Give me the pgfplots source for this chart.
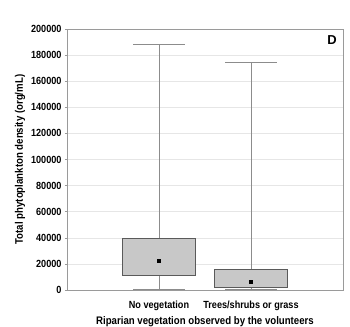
\documentclass[border=0pt]{standalone}
\usepackage{pgfplots}
\pgfplotsset{compat=1.18}
\usepackage{fontspec}
\setmainfont{Liberation Sans}
\newfontfamily\condfont[FakeStretch=0.88, UprightFont={* Bold}, BoldFont={* Bold}]{Liberation Sans}
\definecolor{boxfill}{HTML}{C8C8C8}
\definecolor{boxdraw}{HTML}{5A5A5A}
\definecolor{whisk}{HTML}{8C8C8C}
\definecolor{gridc}{HTML}{E6E6E6}
\definecolor{axc}{HTML}{9A9A9A}
\begin{document}
\begin{tikzpicture}
\begin{axis}[
  name=ax,
  scale only axis,
  width=276bp, height=261bp,
  xmin=0, xmax=3,
  ymin=0, ymax=200,
  ytick={0,20,...,200},
  yticklabels={0,20000,40000,60000,80000,100000,120000,140000,160000,180000,200000},
  xtick={1,2},
  xticklabels={No vegetation, Trees/shrubs or grass},
  ymajorgrids,
  grid style={gridc, line width=0.6pt},
  axis line style={axc, line width=0.6pt},
  tick style={axc, line width=0.6pt},
  tick align=outside,
  major tick length=2bp,
  xtick style={draw=none},
  ytick pos=left,
  tick label style={font=\condfont\fontsize{10.4}{12}\selectfont},
  xticklabel style={yshift=-5bp},
  ylabel={Total phytoplankton density (org/mL)},
  xlabel={Riparian vegetation observed by the volunteers},
  label style={font=\condfont\fontsize{11}{13}\selectfont},
  ylabel style={at={(axis description cs:-0.17,0.5)}, anchor=center},
  xlabel style={at={(axis description cs:0.5,0)}, anchor=center, yshift=-32bp},
  clip=false,
]
% values in thousands of org/mL
% whiskers (stems)
\addplot[whisk, line width=0.7pt] coordinates {(1,0.5) (1,11.5)};
\addplot[whisk, line width=0.7pt] coordinates {(1,39.6) (1,188.5)};
\addplot[whisk, line width=0.7pt] coordinates {(2,0.3) (2,2.3)};
\addplot[whisk, line width=0.7pt] coordinates {(2,15.9) (2,174.7)};
% whisker caps
\addplot[whisk, line width=0.7pt] coordinates {(0.72,188.5) (1.28,188.5)};
\addplot[whisk, line width=0.7pt] coordinates {(0.72,0.5) (1.28,0.5)};
\addplot[whisk, line width=0.7pt] coordinates {(1.72,174.7) (2.28,174.7)};
\addplot[whisk, line width=0.7pt] coordinates {(1.72,0.3) (2.28,0.3)};
% boxes (lower quartile to upper quartile)
\addplot[draw=boxdraw, fill=boxfill, line width=0.7pt] coordinates {(0.6,11.5) (1.4,11.5) (1.4,39.6) (0.6,39.6)} -- cycle;
\addplot[draw=boxdraw, fill=boxfill, line width=0.7pt] coordinates {(1.6,2.3) (2.4,2.3) (2.4,15.9) (1.6,15.9)} -- cycle;
% central point
\addplot[only marks, mark=square*, mark size=1.6pt, black] coordinates {(1,22.5) (2,6.4)};
\node[anchor=center, font=\bfseries\fontsize{13}{14}\selectfont] at (rel axis cs:0.96,0.958) {D};
\end{axis}
\pgfresetboundingbox
\path[use as bounding box] ([shift={(-67bp,-37bp)}]ax.south west) rectangle ([shift={(7bp,29bp)}]ax.north east);
\end{tikzpicture}
\end{document}
